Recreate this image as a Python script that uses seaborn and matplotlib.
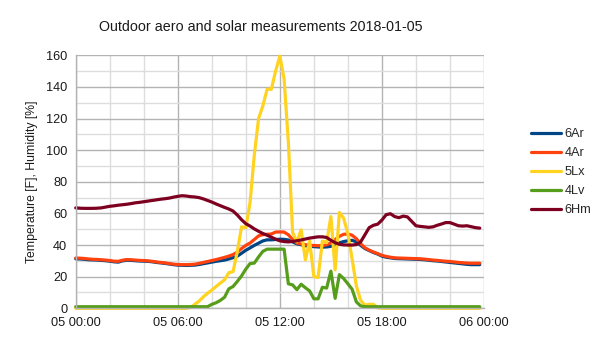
import numpy as np
import pandas as pd
import matplotlib
matplotlib.use("Agg")
import matplotlib.pyplot as plt
import matplotlib.dates as mdates
from matplotlib.ticker import MultipleLocator
import seaborn as sns

# 15-minute samples over 2018-01-05
times = pd.date_range("2018-01-05 00:00", periods=96, freq="15min")

ar6 = [31.3, 31.2, 31.0, 30.7, 30.6, 30.5, 30.3, 30.1,
       29.8, 29.4, 29.2, 30.0, 30.4, 30.3, 30.1, 29.9,
       29.8, 29.7, 29.4, 29.0, 28.7, 28.4, 28.0, 27.6,
       27.3, 27.2, 27.1, 27.2, 27.3, 27.7, 28.2, 28.7,
       29.2, 29.7, 30.1, 30.5, 31.2, 32.0, 33.0, 34.8,
       36.7, 38.2, 39.8, 41.2, 42.6, 43.3, 43.3, 43.5,
       43.7, 43.6, 43.2, 42.0, 40.8, 40.2, 39.6, 39.3,
       39.0, 38.8, 38.7, 38.8, 39.2, 40.2, 41.4, 42.2,
       42.7, 43.0, 42.0, 39.8, 37.8, 36.5, 35.3, 34.3,
       33.0, 32.3, 31.9, 31.5, 31.4, 31.3, 31.2, 31.1,
       31.0, 30.9, 30.7, 30.4, 30.1, 29.9, 29.6, 29.3,
       29.0, 28.7, 28.4, 28.1, 27.8, 27.6, 27.6, 27.6]

ar4 = [31.8, 31.7, 31.5, 31.2, 31.0, 30.9, 30.7, 30.5,
       30.2, 29.8, 29.7, 30.4, 30.8, 30.7, 30.5, 30.3,
       30.2, 30.0, 29.7, 29.3, 29.0, 28.7, 28.3, 27.9,
       27.7, 27.6, 27.6, 27.7, 27.9, 28.4, 29.0, 29.6,
       30.2, 30.8, 31.5, 32.2, 33.0, 34.0, 35.5, 37.8,
       39.8, 41.3, 43.5, 45.8, 46.6, 46.8, 47.0, 48.2,
       48.3, 48.2, 46.5, 43.5, 41.3, 40.6, 40.2, 39.9,
       39.7, 39.6, 39.6, 40.2, 41.3, 43.5, 45.5, 46.8,
       47.0, 46.2, 44.0, 40.8, 38.3, 36.8, 35.6, 34.6,
       33.5, 32.8, 32.3, 31.9, 31.8, 31.7, 31.6, 31.5,
       31.4, 31.3, 31.1, 30.8, 30.5, 30.3, 30.0, 29.8,
       29.6, 29.3, 29.0, 28.8, 28.6, 28.5, 28.5, 28.5]

lx5 = [0.0] * 24 + [
       0.0, 0.0, 0.0, 0.5, 2.5, 4.5, 7.2, 9.5,
       11.5, 13.8, 16.0, 18.0, 22.5, 23.2, 36.0, 51.5,
       51.0, 67.0, 97.0, 120.0, 128.0, 138.5, 138.5, 150.0,
       159.5, 145.0, 105.0, 48.0, 42.0, 49.6, 30.6, 42.5,
       20.0, 19.5, 42.5, 41.5, 58.0, 24.3, 60.6, 57.0,
       47.0, 31.0, 14.0, 5.0, 2.0, 2.5, 2.5, 0.3] + [0.0] * 24

lv4 = [1.0] * 32 + [
       2.5, 3.5, 5.0, 7.0, 12.3, 13.8, 17.0, 20.5,
       24.8, 28.3, 28.6, 32.5, 36.0, 37.4, 37.4, 37.4,
       37.4, 37.4, 15.5, 14.8, 11.8, 15.2, 13.0, 11.0,
       6.0, 6.0, 13.3, 12.8, 23.5, 6.3, 21.3, 18.8,
       15.5, 12.0, 4.0, 1.5] + [1.0] * 28

hm6 = [63.5, 63.3, 63.2, 63.2, 63.2, 63.3, 63.5, 64.0,
       64.5, 64.8, 65.2, 65.5, 65.8, 66.2, 66.7, 67.0,
       67.4, 67.8, 68.2, 68.6, 69.0, 69.3, 69.7, 70.3,
       70.8, 71.2, 71.0, 70.6, 70.4, 70.0, 69.2, 68.2,
       67.2, 66.0, 64.9, 63.8, 62.8, 61.5, 59.0, 56.0,
       53.5, 52.0, 50.2, 48.7, 47.3, 46.2, 45.0, 43.7,
       42.7, 42.2, 42.0, 42.3, 42.7, 43.2, 43.8, 44.4,
       44.8, 45.2, 45.2, 44.8, 43.0, 41.5, 40.5, 40.1,
       40.0, 40.0, 40.3, 42.0, 46.5, 51.0, 52.5, 53.2,
       55.8, 59.2, 59.8, 58.0, 57.3, 58.3, 57.8, 55.0,
       52.2, 51.8, 51.5, 51.2, 51.5, 52.5, 53.3, 54.2,
       54.2, 53.2, 52.2, 52.0, 52.2, 51.6, 51.0, 50.7]

series_names = ["6Ar", "4Ar", "5Lx", "4Lv", "6Hm"]
series_values = [ar6, ar4, lx5, lv4, hm6]
series_colors = ["#004586", "#ff420e", "#ffd320", "#579d1c", "#7e0021"]

title = "Outdoor aero and solar measurements 2018-01-05"
y_label = "Temperature [F], Humidity [%]"

df = pd.concat(
    [pd.DataFrame({"time": times, "value": v, "series": n})
     for n, v in zip(series_names, series_values)],
    ignore_index=True)

sns.set_theme(style="white")
plt.rcParams["font.family"] = ["Liberation Sans", "DejaVu Sans"]

fig = plt.figure(figsize=(6.05, 3.4), dpi=100)
ax = fig.add_axes([75.7 / 605, 1 - 308.3 / 340, (484 - 75.7) / 605, (308.3 - 55.3) / 340])

sns.lineplot(data=df, x="time", y="value", hue="series", hue_order=series_names,
             palette=dict(zip(series_names, series_colors)), linewidth=2.3,
             ax=ax, legend=True)
for ln in ax.get_lines():
    ln.set_clip_on(False)
    ln.set_solid_joinstyle("round")

ax.set_xlim(pd.Timestamp("2018-01-05 00:00"), pd.Timestamp("2018-01-06 00:00"))
ax.set_ylim(0, 160)
ax.yaxis.set_major_locator(MultipleLocator(20))
ax.yaxis.set_minor_locator(MultipleLocator(10))
ax.xaxis.set_major_locator(mdates.HourLocator(byhour=[0, 6, 12, 18]))
ax.xaxis.set_minor_locator(mdates.HourLocator(byhour=range(0, 24, 2)))
ax.xaxis.set_major_formatter(mdates.DateFormatter("%d %H:%M"))

ax.grid(which="major", color="#b3b3b3", linewidth=1.0)
ax.grid(which="minor", color="#dddddd", linewidth=1.0)
ax.set_axisbelow(True)
for side in ["top", "right"]:
    ax.spines[side].set_visible(False)
for side in ["left", "bottom"]:
    ax.spines[side].set_color("#b3b3b3")
    ax.spines[side].set_linewidth(1.0)

ax.tick_params(which="major", direction="out", length=4, width=1.0, color="#b3b3b3",
               labelsize=9.2, labelcolor="#1a1a1a", pad=2)
ax.tick_params(which="minor", length=0)
ax.set_xlabel("")
ax.set_ylabel(y_label, fontsize=8.8, color="#1a1a1a", labelpad=6)

fig.text(261 / 605, 1 - 26.7 / 340, title, ha="center", va="center",
         fontsize=10.3, color="#1a1a1a")

handles, labels = ax.get_legend_handles_labels()
ax.legend(handles, labels, loc="upper left",
          bbox_to_anchor=(531 / 605, 1 - 128 / 340), bbox_transform=fig.transFigure,
          frameon=False, fontsize=9.2, handlelength=2.35, handletextpad=0.3,
          labelspacing=0.55, borderpad=0, borderaxespad=0)

fig.savefig("out.png", dpi=100)
